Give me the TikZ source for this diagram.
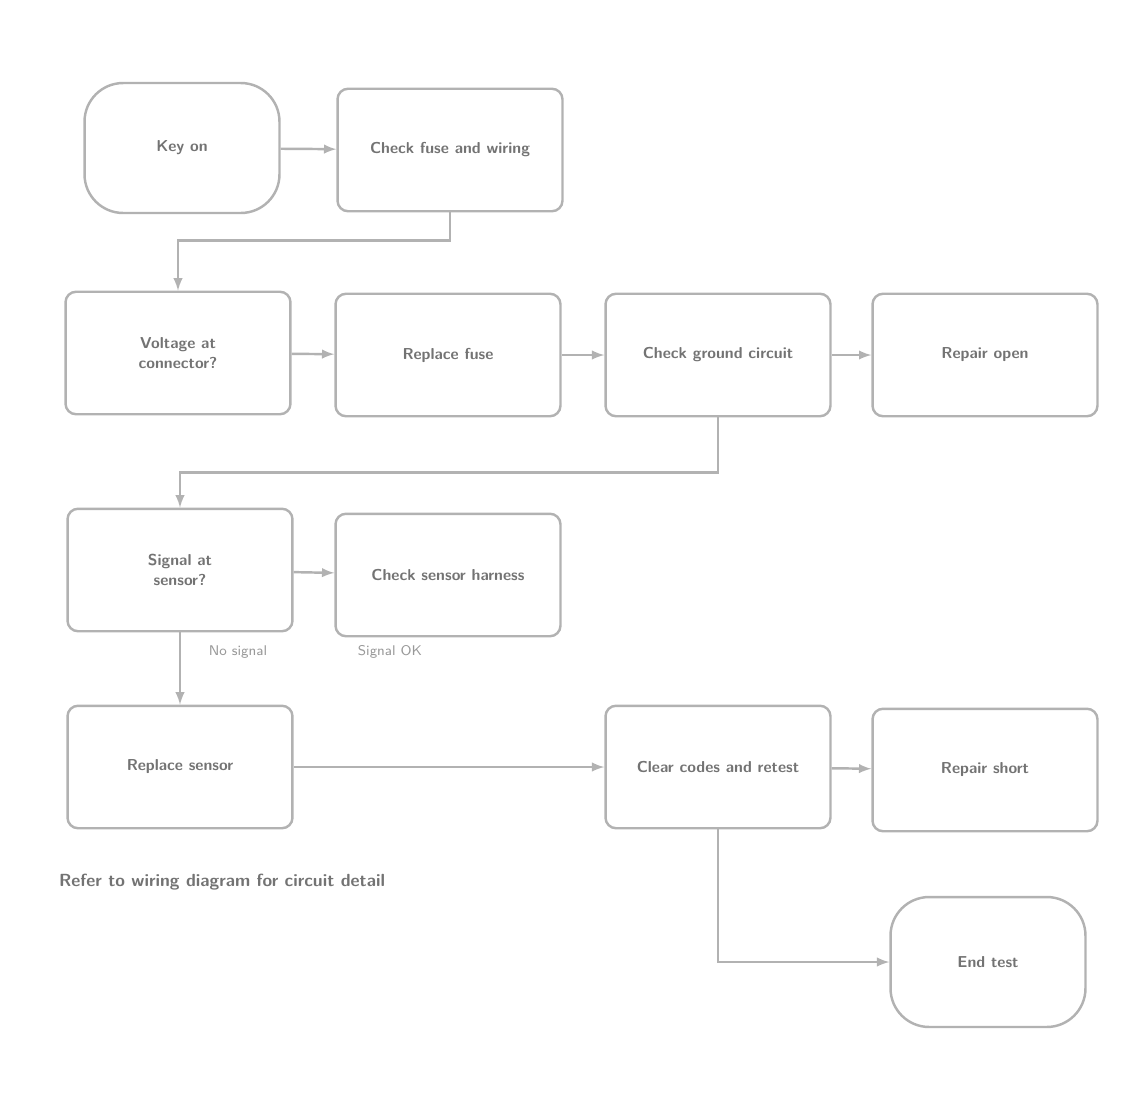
\documentclass[tikz,border=0pt]{standalone}
\usetikzlibrary{positioning}
\begin{document}
\begin{tikzpicture}[
        x=0.02cm, y=-0.02cm,
        line width=1.4pt,
        draw=black!30,
        font=\sffamily\bfseries\small
    ]
    \tikzset{
        chartbox/.style = {rectangle, rounded corners=6pt, draw=black!30, align=center, text=black!55, minimum width=4.5cm, minimum height=2.45cm},
        termbox/.style = {chartbox, rounded corners=22pt, minimum width=3.9cm, minimum height=2.6cm},
        flow/.style = {draw=black!30, ->, >=latex},
        tag/.style = {text=black!40, font=\sffamily\footnotesize},
    }
    \useasboundingbox (0,0) rectangle (1137,1113);
    % row 1
    \node[termbox] (keyon) at (182,148) {Key on};
    \node[chartbox] (fuse) at (450,150) {Check fuse and wiring};
    % row 2
    \node[chartbox] (volt) at (178,353) {Voltage at\\connector?};
    \node[chartbox] (repfuse) at (448,355) {Replace fuse};
    \node[chartbox] (ground) at (718,355) {Check ground circuit};
    \node[chartbox] (open) at (985,355) {Repair open};
    % row 3
    \node[chartbox] (signal) at (180,570) {Signal at\\sensor?};
    \node[chartbox] (harness) at (448,575) {Check sensor harness};
    \node[tag] (nosig) at (238,652) {No signal};
    \node[tag] (sigok) at (390,652) {Signal OK};
    % row 4
    \node[chartbox] (sensor) at (180,767) {Replace sensor};
    \node[chartbox] (retest) at (718,767) {Clear codes and retest};
    \node[chartbox] (short) at (985,770) {Repair short};
    \node[termbox] (endtest) at (988,962) {End test};
    \node[anchor=west, text=black!55, font=\sffamily\bfseries\normalsize] (note) at (52,882) {Refer to wiring diagram for circuit detail};
    % connectors
    \draw[flow] (keyon) -- (fuse);
    \draw[flow] (fuse.south) -- ++(0,28) -| (volt.north);
    \draw[flow] (volt) -- (repfuse);
    \draw[flow] (repfuse) -- (ground);
    \draw[flow] (ground) -- (open);
    \draw[flow] (ground.south) -- ++(0,55) -| (signal.north);
    \draw[flow] (signal) -- (harness);
    \draw[flow] (signal.south) -- (sensor.north);
    \draw[flow] (sensor) -- (retest);
    \draw[flow] (retest) -- (short);
    \draw[flow] (retest.south) |- (endtest.west);
\end{tikzpicture}
\end{document}
